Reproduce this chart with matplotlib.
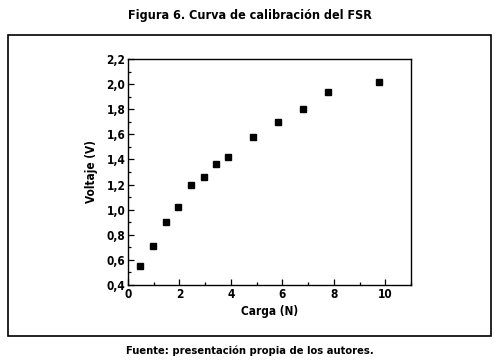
import matplotlib
matplotlib.use("Agg")
import matplotlib.pyplot as plt
from matplotlib.patches import Rectangle
from matplotlib.ticker import MultipleLocator, FuncFormatter

carga = [0.48, 0.98, 1.48, 1.94, 2.44, 2.95, 3.42, 3.89, 4.86, 5.84, 6.82, 7.79, 9.74]
voltaje = [0.55, 0.71, 0.90, 1.02, 1.20, 1.26, 1.36, 1.42, 1.58, 1.70, 1.80, 1.94, 2.02]

title = "Figura 6. Curva de calibración del FSR"
footer = "Fuente: presentación propia de los autores."
xlabel = "Carga (N)"
ylabel = "Voltaje (V)"

plt.rcParams['font.family'] = ["DejaVu Sans"]
plt.rcParams['font.stretch'] = 'condensed'

W, H = 499, 362
fig = plt.figure(figsize=(W/100, H/100), dpi=100)

def fx(px): return px / W
def fy(py): return 1 - py / H

fig.patches.append(Rectangle((fx(8), fy(336)), fx(491) - fx(8), fy(35) - fy(336),
                             transform=fig.transFigure, fill=False, lw=1.2, ec='black'))

ax = fig.add_axes([fx(128), fy(285), fx(411) - fx(128), fy(59) - fy(285)])
ax.plot(carga, voltaje, 's', color='black', markersize=4.5)
ax.set_xlim(0, 11)
ax.set_ylim(0.4, 2.2)
ax.xaxis.set_major_locator(MultipleLocator(2))
ax.xaxis.set_minor_locator(MultipleLocator(1))
ax.yaxis.set_major_locator(MultipleLocator(0.2))
ax.yaxis.set_minor_locator(MultipleLocator(0.1))
ax.yaxis.set_major_formatter(FuncFormatter(lambda v, p: f"{v:.1f}".replace('.', ',')))
ax.xaxis.set_major_formatter(FuncFormatter(lambda v, p: f"{v:.0f}"))
ax.tick_params(which='both', direction='in', top=False, right=False, labelsize=8.5, width=0.9, pad=2)
ax.tick_params(which='major', length=4)
ax.tick_params(which='minor', length=2.5)
for lbl in ax.get_xticklabels() + ax.get_yticklabels():
    lbl.set_fontweight('bold')
    lbl.set_fontstretch('condensed')
for s in ax.spines.values():
    s.set_linewidth(1.0)
ax.set_xlabel(xlabel, fontsize=8.5, fontweight='bold', labelpad=3, fontstretch='condensed')
ax.set_ylabel(ylabel, fontsize=8.5, fontweight='bold', labelpad=6, fontstretch='condensed')

fig.text(0.5, fy(15), title, ha='center', va='center', fontsize=9, fontweight='bold', fontstretch='condensed')
fig.text(0.5, fy(351), footer, ha='center', va='center', fontsize=8, fontweight='bold', fontstretch='condensed')

fig.savefig("out.png", dpi=100)
